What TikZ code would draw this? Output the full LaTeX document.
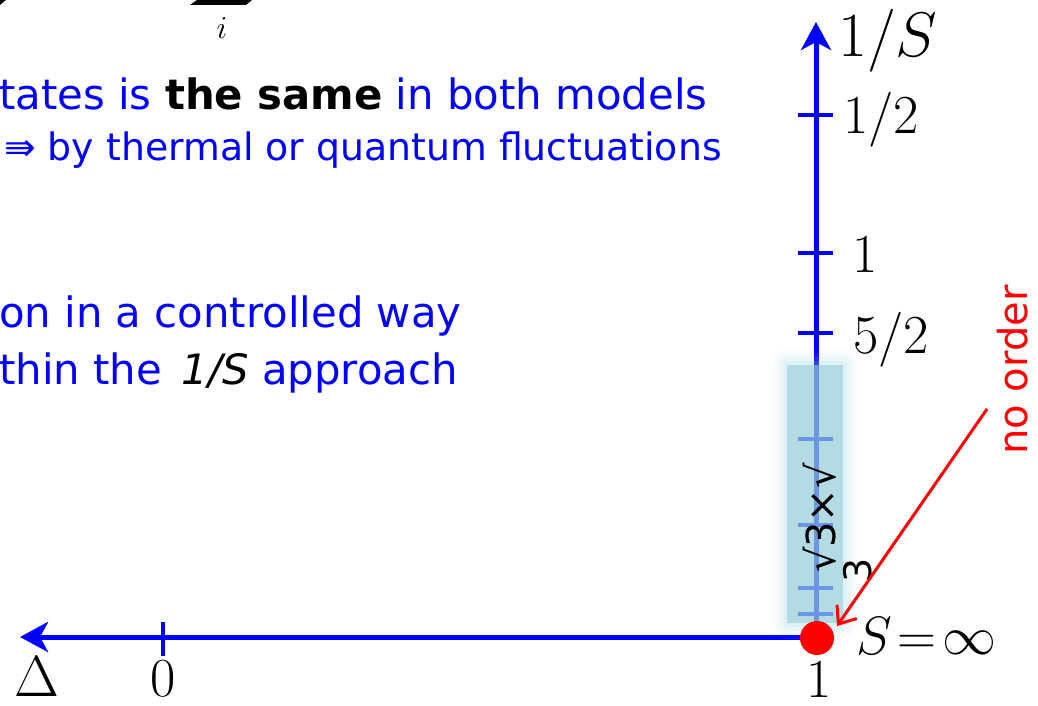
\RequirePackage{fix-cm}
\documentclass[tikz,border=0pt]{standalone}
\usepackage{fontspec}
\usetikzlibrary{arrows.meta}
\newfontfamily\tah{DejaVu Sans}
\definecolor{shadecol}{RGB}{150,205,215}
\definecolor{glowc}{RGB}{160,210,225}
\begin{document}
\begin{tikzpicture}[x=1pt,y=-1pt,
  axisline/.style={draw=blue, line width=5pt},
  tickmark/.style={draw=blue, line width=4.5pt},
  numlab/.style={inner sep=0pt, font=\fontsize{55}{60}\selectfont},
  slide/.style={inner sep=0pt, anchor=base west, text=blue},
  axishead/.style={-{Stealth[length=28pt,width=30pt,inset=8pt]}}]
\useasboundingbox (0,0) rectangle (1038,706);

% cropped fragments of a formula at the top
\fill (0,0) -- (6,0) -- (0,5) -- cycle;
\fill (190,5) -- (197,0) -- (252,0) -- (246,5) -- cycle;
\node[inner sep=0pt, font=\fontsize{32}{36}\selectfont] (idx) at (222,28) {$i$};

% slide text
\node[slide, font=\tah\fontsize{41.8}{48}\selectfont] (t1) at (-1,110)
  {tates is \textcolor{black}{\bfseries the same} in both models};
\node[slide, font=\tah\fontsize{37.8}{42}\selectfont] (t2) at (4,160)
  {⇛ by thermal or quantum fluctuations};
\node[slide, font=\tah\fontsize{41.8}{46}\selectfont] (t3) at (-1,327)
  {on in a controlled way};
\node[slide, font=\tah\fontsize{41.8}{46}\selectfont] (t4) at (-1,384)
  {thin the \hspace{0.15em}\textcolor{black}{\itshape 1/S} approach};

% axes
\coordinate (O) at (816,637);
\coordinate (top) at (816,22);
\coordinate (left) at (20,637);
\draw[axisline, axishead] (O) -- (top);
\draw[axisline, axishead] (O) -- (left);
\foreach \y in {115,253,333,439,525,588,614}
  \draw[tickmark] (798,\y) -- (833,\y);
\draw[tickmark, line width=4pt] (163,622) -- (163,656);

% shaded region
\foreach \d/\o in {16/0.05,12/0.07,8/0.1,4/0.14}
  \fill[glowc, opacity=\o, rounded corners=\d pt] (787-\d,365-\d) rectangle (843+\d,623+\d);
\fill[shadecol, opacity=0.6] (787,365) rectangle (843,623);
\node[rotate=90, inner sep=0pt, font=\tah\fontsize{40}{44}\selectfont] (sq) at (820,518) {√3×√};
\node[rotate=90, inner sep=0pt, font=\tah\fontsize{38}{44}\selectfont] (sq3) at (858,570) {3};

% labels
\node[numlab, anchor=base west, font=\fontsize{63}{66}\selectfont] (linv) at (838,57) {$1/S$};
\node[numlab, anchor=base west] (lhalf) at (843,133) {$1/2$};
\node[numlab, anchor=base west] (lone) at (852,272) {$1$};
\node[numlab, anchor=base west] (lfive) at (853,353) {$5/2$};
\node[numlab, anchor=base, font=\fontsize{58}{60}\selectfont] (ldelta) at (37,696) {$\Delta$};
\node[numlab, anchor=base] (lzero) at (163,696) {$0$};
\node[numlab, anchor=base] (lone2) at (819,697) {$1$};

% point S = infinity
\node[circle, fill=red, minimum size=34pt, inner sep=0pt] (dot) at (817,638) {};
\node[inner sep=0pt, anchor=base west, font=\fontsize{54}{58}\selectfont] (sinf) at (856,654) {$S\mkern2mu{=}\mkern2mu\infty$};

% no order
\node[rotate=90, inner sep=0pt, text=red, font=\tah\fontsize{40}{46}\selectfont] (noord) at (1013,370) {no order};
\coordinate (nostart) at (987,409);
\coordinate (notip) at (837,626);
\draw[red, line width=3pt, -{Straight Barb[length=15pt,width=24pt]}] (nostart) -- (notip);
\end{tikzpicture}
\end{document}
